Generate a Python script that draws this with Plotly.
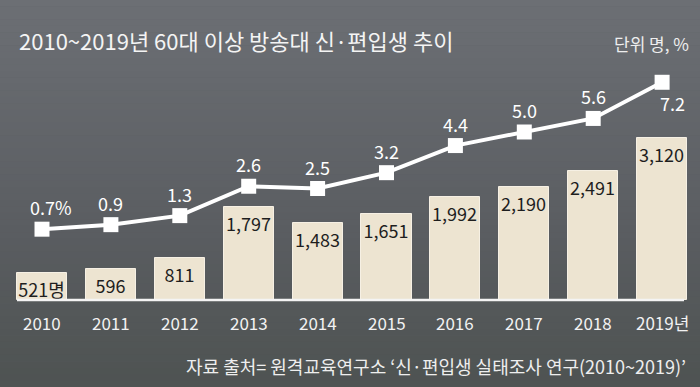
import plotly.graph_objects as go

years = ["2010", "2011", "2012", "2013", "2014", "2015", "2016", "2017", "2018", "2019년"]
students = [521, 596, 811, 1797, 1483, 1651, 1992, 2190, 2491, 3120]
student_labels = ["521명", "596", "811", "1,797", "1,483", "1,651", "1,992", "2,190", "2,491", "3,120"]
share = [0.7, 0.9, 1.3, 2.6, 2.5, 3.2, 4.4, 5.0, 5.6, 7.2]
share_labels = ["0.7%", "0.9", "1.3", "2.6", "2.5", "3.2", "4.4", "5.0", "5.6", "7.2"]

FONT = "Noto Sans CJK KR"
x = list(range(len(years)))

fig = go.Figure()

# gradient background via strips
top = (0x6c, 0x6f, 0x74)
mid = (0x5a, 0x5d, 0x61)
bot = (0x4e, 0x53, 0x52)
n = 60
shapes = []
for i in range(n):
    t = i / (n - 1)
    if t < 0.6:
        u = t / 0.6
        c = tuple(round(top[k] + (mid[k] - top[k]) * u) for k in range(3))
    else:
        u = (t - 0.6) / 0.4
        c = tuple(round(mid[k] + (bot[k] - mid[k]) * u) for k in range(3))
    y1 = 1 - i / n
    y0 = 1 - (i + 1) / n
    shapes.append(dict(type="rect", xref="paper", yref="paper", x0=0, x1=1, y0=y0 - 0.001, y1=y1,
                       fillcolor="rgb(%d,%d,%d)" % c, line=dict(width=0), layer="below"))

fig.add_trace(go.Bar(
    x=x, y=students, width=0.726,
    marker=dict(color="#ede4d1", line=dict(color="#f6f0e4", width=1)),
    text=student_labels, textposition="inside", insidetextanchor="end",
    constraintext="none",
    textfont=dict(family=FONT, size=18, color="#1e1e1e"),
    textangle=0, cliponaxis=False, hoverinfo="skip",
))

fig.add_trace(go.Scatter(
    x=x, y=share, yaxis="y2", mode="lines+markers",
    line=dict(color="white", width=4),
    marker=dict(symbol="square", size=15, color="white"),
    hoverinfo="skip", cliponaxis=False,
))

px_x = 68.9
px_bar = 0.0518
px_line = 22.6

annotations = []
for i, (v, lab) in enumerate(zip(share, share_labels)):
    if i == len(share) - 1:
        annotations.append(dict(x=i, y=v, xref="x", yref="y2", text=lab, showarrow=False,
                                xshift=10, yshift=-21, font=dict(family=FONT, size=18, color="white")))
    else:
        annotations.append(dict(x=i, y=v, xref="x", yref="y2", text=lab, showarrow=False,
                                xshift=9 if i == 0 else 0,
                                yshift=22, font=dict(family=FONT, size=18, color="white")))

for i, yr in enumerate(years):
    annotations.append(dict(x=i, y=0, xref="x", yref="y", text=yr, showarrow=False,
                            yshift=-22, font=dict(family=FONT, size=17, color="#f2f2f2")))

annotations += [
    dict(x=17, y=40, text="2010~2019년 60대 이상 방송대 신·편입생 추이",
         showarrow=False, xanchor="left", yanchor="middle",
         font=dict(family=FONT, size=22, color="#f4f4f4")),
    dict(x=691, y=43, text="단위 명, %", showarrow=False, xanchor="right", yanchor="middle",
         font=dict(family=FONT, size=17, color="#eeeeee")),
    dict(x=688, y=366, text="자료 출처= 원격교육연구소 ‘신·편입생 실태조사 연구(2010~2019)’", showarrow=False,
         xanchor="right", yanchor="middle", font=dict(family=FONT, size=18, color="#eeeeee")),
]
# convert pixel-coordinate paper annotations
for a in annotations[-3:]:
    a["xref"] = "paper"
    a["yref"] = "paper"
    a["x"] = a["x"] / 700
    a["y"] = 1 - a["y"] / 387

shapes.append(dict(type="line", xref="paper", yref="y", x0=17 / 700, x1=684 / 700, y0=0, y1=0,
                   line=dict(color="#f4f4f4", width=2.5)))

fig.update_layout(
    width=700, height=387, margin=dict(l=0, r=0, t=0, b=0),
    paper_bgcolor="#5d6064", plot_bgcolor="rgba(0,0,0,0)",
    showlegend=False, bargap=0,
    xaxis=dict(range=[-42 / px_x, (700 - 42) / px_x], visible=False, fixedrange=True),
    yaxis=dict(range=[-(387 - 300) / px_bar, 300 / px_bar], visible=False),
    yaxis2=dict(range=[-(387 - 245) / px_line, 245 / px_line], visible=False, overlaying="y"),
    shapes=shapes, annotations=annotations,
)

fig.write_html("out.html", config={"displayModeBar": False},
               post_script="document.body.style.margin='0';document.body.style.overflow='hidden';")
